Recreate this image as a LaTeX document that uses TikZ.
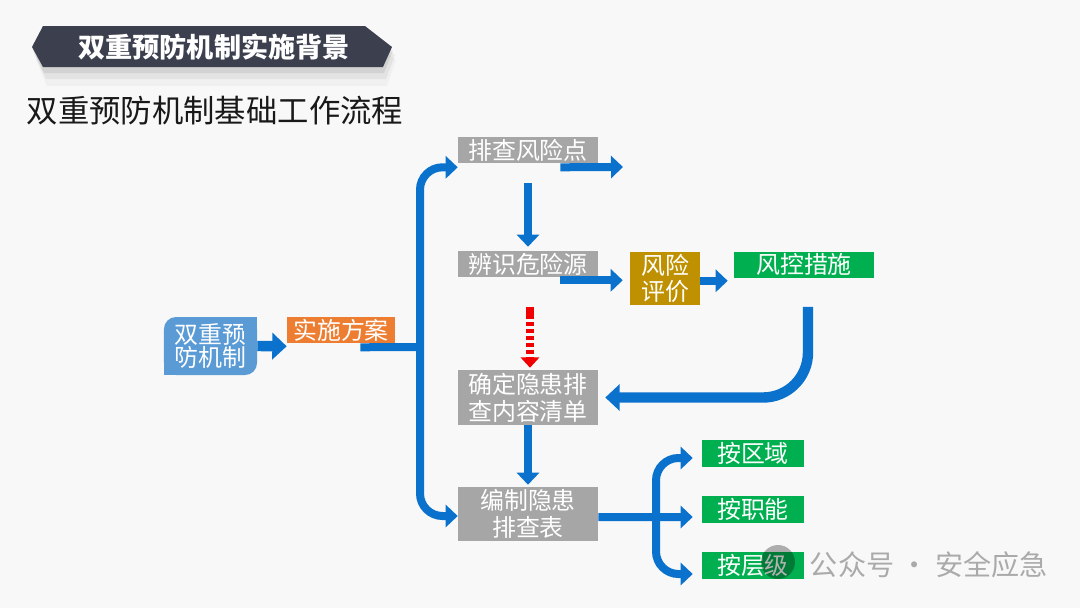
\documentclass[tikz,border=0pt]{standalone}
\usepackage{fontspec}
\setmainfont{Noto Sans CJK SC}
\usepackage{xcolor}
\usepackage{tikz}
\usetikzlibrary{calc, arrows.meta}
\definecolor{beijing}{RGB}{248, 248, 248}
\definecolor{biaotise}{RGB}{60, 63, 78}
\definecolor{jianlan}{RGB}{10, 114, 204}
\definecolor{jichulan}{RGB}{91, 155, 213}
\definecolor{chengse}{RGB}{237, 125, 49}
\definecolor{huise}{RGB}{166, 166, 166}
\definecolor{jinse}{RGB}{191, 144, 0}
\definecolor{lvse}{RGB}{0, 176, 80}
\definecolor{hongse}{RGB}{240, 0, 0}
\definecolor{zihei}{RGB}{25, 25, 25}
\definecolor{shuiyin}{RGB}{170, 170, 170}

\begin{document}
\begin{tikzpicture}[
  x=0.025cm, y=-0.025cm,
  kuang/.style={fill=#1, text=white, inner sep=0pt, align=center, minimum width=3.5cm, minimum height=0.65cm, font=\fontsize{17pt}{19pt}\selectfont},
  kuang/.default=huise,
  jian/.style={-{Triangle[length=0.3cm, width=0.55cm]}, line width=0.2cm, jianlan},
  jiancu/.style={-{Triangle[length=0.36cm, width=0.65cm]}, line width=0.26cm, jianlan},
  jianxu/.style={-{Triangle[length=0.26cm, width=0.46cm]}, line width=0.22cm, hongse, dash pattern=on 8pt off 2.5pt on 2.5pt off 2.5pt on 2.5pt off 2.5pt on 2.5pt off 2.5pt on 2.5pt off 2.5pt on 2.5pt off 2.5pt}
]
\useasboundingbox (0,0) rectangle (1080,608);
\fill[beijing] (0,0) rectangle (1080,608);
% 标题栏及阴影
\fill[black, opacity=0.03] (36,60) -- (47,38) -- (369,38) -- (396,60) -- (387,86) -- (47,86) -- cycle;
\fill[black, opacity=0.05] (35,55) -- (46,34) -- (368,34) -- (395,55) -- (386,79) -- (46,79) -- cycle;
\fill[black, opacity=0.07] (33,51) -- (44,30) -- (366,30) -- (393,51) -- (384,73) -- (44,73) -- cycle;
\fill[biaotise] (32,47) -- (43,26) -- (365,26) -- (392,47) -- (383,67) -- (43,67) -- cycle;
\node[text=white, font=\fontsize{19.3pt}{19.3pt}\selectfont\bfseries] (biaoti) at (214,47) {双重预防机制实施背景};
\node[text=zihei, font=\fontsize{22.3pt}{22.3pt}\selectfont] (fubiaoti) at (215,111) {双重预防机制基础工作流程};
% 左侧：起点与方案
\node[kuang=jichulan, rounded corners=0.3cm, minimum width=2.325cm, minimum height=1.45cm, font=\fontsize{17pt}{16.5pt}\selectfont] (zhidu) at (210.5,346) {双重预\\防机制};
\fill[jichulan] (zhidu.north east) rectangle ++(-14,14);
\fill[jichulan] (zhidu.south west) rectangle ++(14,-14);
\node[kuang=chengse, minimum width=2.7cm] (fangan) at (341,330) {实施方案};
% 中列：灰色流程框
\node[kuang] (paicha) at (528,150) {排查风险点};
\node[kuang] (bianshi) at (528,264) {辨识危险源};
\node[kuang, minimum height=1.375cm] (queding) at (528,397.5) {确定隐患排\\查内容清单};
\node[kuang, minimum height=1.35cm] (bianzhi) at (528,514) {编制隐患\\排查表};
% 右侧：评价、措施与分类
\node[kuang=jinse, minimum width=1.75cm, minimum height=1.325cm, font=\fontsize{17pt}{18pt}\selectfont] (pingjia) at (665,278.5) {风险\\评价};
\node[kuang=lvse] (fengkong) at (804,264.5) {风控措施};
\node[kuang=lvse, minimum width=2.55cm, minimum height=0.675cm] (quyu) at (753,453.5) {按区域};
\node[kuang=lvse, minimum width=2.55cm, minimum height=0.675cm] (zhineng) at (753,509.5) {按职能};
\node[kuang=lvse, minimum width=2.55cm, minimum height=0.675cm] (cengji) at (753,565.5) {按层级};
% 箭头
\coordinate (fenzhi) at (420,347);
\coordinate (kongduan) at (623,167);
\coordinate (fenzhi2) at (656,517);
\draw[jiancu] (zhidu.east) -- ($(fangan.south west)+(0,3)$);
\draw[jian, -] ($(fangan.south east)+(-35,4)$) -- (fenzhi);
\draw[jian, rounded corners=16] (fenzhi) |- ($(paicha.south west)+(0,4)$);
\draw[jian, rounded corners=16] (fenzhi) |- ($(bianzhi.west)+(0,2)$);
\draw[jian] ($(paicha.south east)+(-38,4)$) -- (kongduan);
\draw[jian, shorten <=0.5cm, shorten >=0.1cm] (paicha.south) -- (bianshi.north);
\draw[jian] ($(bianshi.south east)+(-38,3)$) -- ($(pingjia.west |- bianshi.south)+(-7,3)$);
\draw[jian] ($(pingjia.east |- fengkong.south)+(0,3)$) -- ($(fengkong.south west)+(-6,3)$);
\draw[jiancu, rounded corners=32] ($(fengkong.south)+(4,29)$) |- ($(queding.east)+(7,0)$);
\draw[jianxu] ($(bianshi.south)+(2,30)$) -- ($(queding.north)+(2,-2)$);
\draw[jian, shorten >=0.05cm] (queding.south) -- (bianzhi.north);
\draw[jian] ($(bianzhi.east)+(0,3)$) -- ($(zhineng.west)+(-9,7.5)$);
\draw[jian, rounded corners=16] (fenzhi2) |- ($(quyu.west)+(-9,4.5)$);
\draw[jian, rounded corners=16] (fenzhi2) |- ($(cengji.west)+(-9,8.5)$);
% 水印
\fill[black, opacity=0.3] (778,562) circle (17);
\node[text=shuiyin, font=\fontsize{20pt}{20pt}\selectfont, anchor=west] (shuiyin) at (805,565) {公众号 · 安全应急};
\end{tikzpicture}
\end{document}
